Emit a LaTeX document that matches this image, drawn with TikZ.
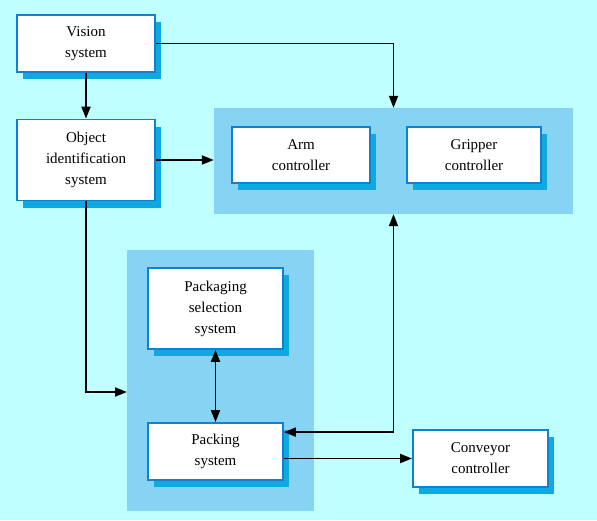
\documentclass[tikz,border=0pt]{standalone}
\usepackage{fontspec}
\setmainfont{Liberation Serif}
\usetikzlibrary{positioning, arrows.meta, shadows, calc}
\definecolor{bgcyan}{HTML}{C0FFFF}
\definecolor{grpblue}{HTML}{87D3F3}
\definecolor{shadeblue}{HTML}{10A8E0}
\definecolor{edgeblue}{HTML}{1080D0}
\tikzset{
  block/.style={draw=edgeblue, fill=white, line width=1.8pt, rectangle,
                minimum width=138pt, minimum height=57pt, align=center,
                font=\fontsize{15}{21}\selectfont,
                drop shadow={shadow xshift=6pt, shadow yshift=-7pt,
                             fill=shadeblue, opacity=1}},
  group/.style={fill=grpblue, rectangle, inner sep=0pt},
  line/.style ={line width=1.9pt, -{Triangle[length=12pt, width=9pt]}},
  dline/.style={line width=1.9pt, {Triangle[length=12pt, width=9pt]}-{Triangle[length=12pt, width=9pt]}}
}
\begin{document}
\begin{tikzpicture}[x=1pt, y=-1pt]
  \useasboundingbox[fill=bgcyan] (0,0) rectangle (597,520);

  % grouping panels
  \node[group, minimum width=359pt, minimum height=106pt] (ctrl)    at (393.5,161)   {};
  \node[group, minimum width=187pt, minimum height=261pt] (packgrp) at (220.5,380.5) {};

  \node[block] (vision) at (86,43.5) {Vision\\system};
  \node[block, minimum height=81pt] (objid) at (86,160) {Object\\identification\\system};

  \node[block, minimum height=56pt] (arm)  at (301,155) {Arm\\controller};
  \node[block, minimum width=134pt, minimum height=56pt] (grip) at (474,155) {Gripper\\controller};

  \node[block, minimum width=135pt, minimum height=81pt] (pksel) at (215.5,308.5) {Packaging\\selection\\system};
  \node[block, minimum width=135pt] (pack) at (215.5,451.5) {Packing\\system};
  \node[block, minimum width=135pt] (conv) at (480.5,458.5) {Conveyor\\controller};

  \coordinate (pkin) at (127,392);

  % vision to controllers
  \draw[line] (vision.east) -| (ctrl.north);
  % vision to identification
  \draw[line] (vision.south) -- (objid.north);
  % identification to controllers
  \draw[line] (objid.east) -- (objid.east -| ctrl.west);
  % identification to packaging
  \draw[line] (objid.south) |- (pkin);
  % selection and packing
  \draw[dline] (pksel.south) -- (pack.north);
  % controllers and packing
  \draw[dline] (ctrl.south) |- ($(pack.north east)+(0,10)$);
  % packing to conveyor
  \draw[line] (pack.east |- conv.west) -- (conv.west);
\end{tikzpicture}
\end{document}
